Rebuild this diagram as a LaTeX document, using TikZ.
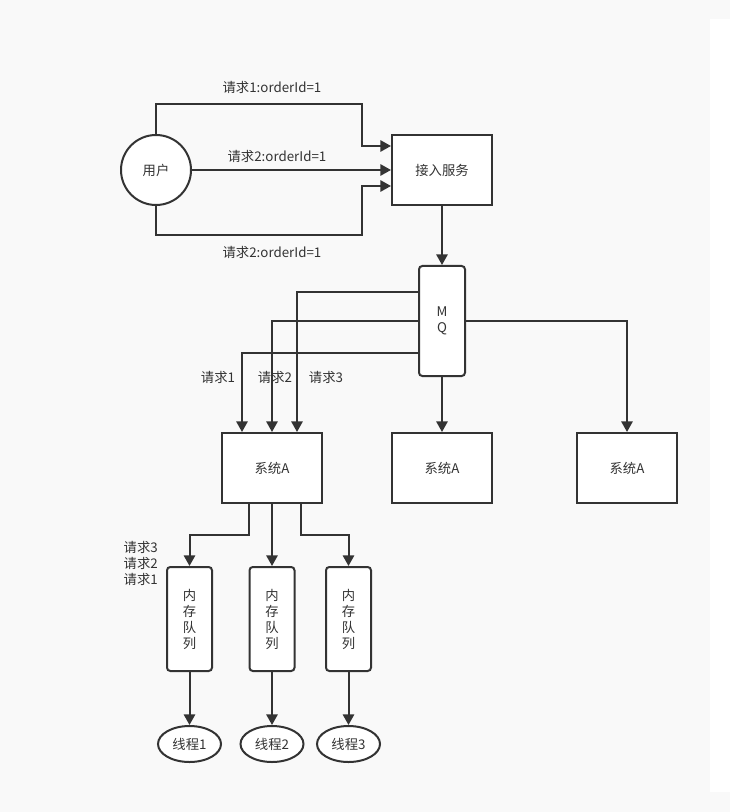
\documentclass[tikz,border=0pt]{standalone}
\usepackage{fontspec}
\setmainfont{Noto Sans CJK SC}
\usetikzlibrary{arrows.meta,shapes.geometric}
\definecolor{bg}{HTML}{F9F9F9}
\definecolor{ln}{HTML}{333333}
\begin{document}
\begin{tikzpicture}[x=0.75pt,y=-0.75pt,
  every node/.style={font=\fontsize{10pt}{12pt}\selectfont, text=ln},
  box/.style={draw=ln, line width=1.5pt, fill=white, minimum width=75pt, minimum height=52.5pt, inner sep=0pt},
  rbox/.style={draw=ln, line width=1.5pt, fill=white, rounded corners=2.5pt, inner sep=0pt, align=center},
  oval/.style={draw=ln, line width=1.5pt, fill=white, ellipse, minimum width=47.25pt, minimum height=27pt, inner sep=0pt},
  arr/.style={draw=ln, line width=1.5pt, -{Triangle[length=8pt,width=8.5pt]}},
  lbl/.style={inner sep=0pt}]
\fill[bg] (0,0) rectangle (730,812);
\useasboundingbox (0,0) rectangle (730,812);
\fill[white] (710,19) rectangle (730,792);

\node[draw=ln, line width=1.5pt, fill=white, circle, minimum size=52.5pt, inner sep=0pt] (user) at (156,170) {用户};
\node[box] (access) at (442,170) {接入服务};
\node[rbox, minimum width=34.5pt, minimum height=82.5pt] (mq) at (442,321) {M\\Q};
\node[box] (sa1) at (272,468) {系统A};
\node[box] (sa2) at (442,468) {系统A};
\node[box] (sa3) at (627,468) {系统A};

\node[rbox, minimum width=33.75pt, minimum height=78pt] (q1) at (189.5,619) {内\\存\\队\\列};
\node[rbox, minimum width=33.75pt, minimum height=78pt] (q2) at (272,619) {内\\存\\队\\列};
\node[rbox, minimum width=33.75pt, minimum height=78pt] (q3) at (348.5,619) {内\\存\\队\\列};

\node[oval] (t1) at (189.5,744) {线程1};
\node[oval] (t2) at (272,744) {线程2};
\node[oval] (t3) at (348.5,744) {线程3};

% user -> access
\draw[arr] (user.north) -- (156,104) -- (362,104) |- ([yshift=18pt]access.west);
\draw[arr] (user.east) -- (access.west);
\draw[arr] (user.south) -- (156,235) -- (362,235) |- ([yshift=-12pt]access.west);
\node[lbl] (l1) at (272,87) {请求1:orderId=1};
\node[lbl] (l2) at (277,156) {请求2:orderId=1};
\node[lbl] (l3) at (272,252) {请求2:orderId=1};

\draw[arr] (access.south) -- (mq.north);

% MQ -> systems
\draw[arr] ([yshift=21.75pt]mq.west) -| ([xshift=18.75pt]sa1.north);
\draw[arr] (mq.west) -| (sa1.north);
\draw[arr] ([yshift=-24pt]mq.west) -| ([xshift=-22.5pt]sa1.north);
\draw[arr] (mq.south) -- (sa2.north);
\draw[arr] (mq.east) -| (sa3.north);
\node[lbl] (r1) at (218,377) {请求1};
\node[lbl] (r2) at (275,377) {请求2};
\node[lbl] (r3) at (326,377) {请求3};

% system -> queues
\draw[arr] ([xshift=-17.25pt]sa1.south) -- ++(0,31) -| (q1.north);
\draw[arr] (sa1.south) -- (q2.north);
\draw[arr] ([xshift=21.75pt]sa1.south) -- ++(0,31) -| (q3.north);
\node[lbl, anchor=east, align=right] (rq) at (158,563) {请求3\\请求2\\请求1};

% queues -> threads
\draw[arr] (q1.south) -- (t1.north);
\draw[arr] (q2.south) -- (t2.north);
\draw[arr] (q3.south) -- (t3.north);
\end{tikzpicture}
\end{document}
